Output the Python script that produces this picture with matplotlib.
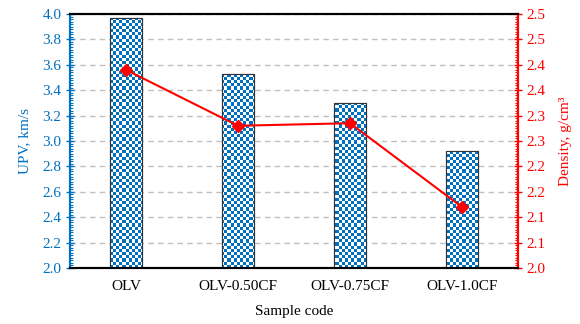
import numpy as np
import matplotlib
matplotlib.use('Agg')
import matplotlib.pyplot as plt
from matplotlib.ticker import MultipleLocator, FuncFormatter
from matplotlib.colors import ListedColormap

samples = ['OLV', 'OLV-0.50CF', 'OLV-0.75CF', 'OLV-1.0CF']
upv = [3.97, 3.53, 3.30, 2.92]
density = [2.39, 2.28, 2.285, 2.12]

BLUE = '#0070C0'
RED = '#FF0000'

plt.rcParams['font.family'] = ['Liberation Serif', 'DejaVu Serif']


def one_decimal(v, pos):
    # excel style: round half up
    return f'{np.floor(v * 10 + 0.5 + 1e-9) / 10:.1f}'


fig = plt.figure(figsize=(5.8, 3.24), dpi=100)
ax = fig.add_axes([70 / 580, 1 - 268 / 324, 448 / 580, 254 / 324])
ax2 = ax.twinx()

x = np.arange(len(samples))
bars = ax.bar(x, upv, width=0.28, bottom=0, facecolor='white',
              edgecolor='#333333', linewidth=0.8, zorder=3)

# checkerboard fill, clipped to each bar
ny, nx = 80, 145
checks = (np.add.outer(np.arange(ny), np.arange(nx)) % 2).astype(float)
cmap = ListedColormap(['white', BLUE])
for b in bars:
    im = ax.imshow(checks, cmap=cmap, extent=(-0.5, 3.5, 2.0, 4.0),
                   aspect='auto', interpolation='nearest', zorder=3.5, origin='lower')
    im.set_clip_path(b)
for b in bars:
    ax.add_patch(plt.Rectangle(b.get_xy(), b.get_width(), b.get_height(),
                               fill=False, edgecolor='#333333', linewidth=0.8, zorder=4))

ax.set_xlim(-0.5, 3.5)
ax.set_ylim(2.0, 4.0)
ax.yaxis.set_major_locator(MultipleLocator(0.2))
ax.yaxis.set_minor_locator(MultipleLocator(0.02))
ax.yaxis.set_major_formatter(FuncFormatter(one_decimal))
ax.grid(axis='y', color='#c0c0c0', linestyle=(0, (4, 3)), linewidth=1.0, zorder=0)
ax.set_axisbelow(True)

ax.set_xticks(x)
ax.set_xticklabels(samples, fontsize=11)
ax.tick_params(axis='x', length=0, pad=9)
ax.tick_params(axis='y', which='major', colors=BLUE, direction='inout', length=6, width=1, labelsize=11, pad=3)
ax.tick_params(axis='y', which='minor', colors=BLUE, direction='in', length=2.5, width=0.8)
ax.set_ylabel('UPV, km/s', color=BLUE, fontsize=11, labelpad=8)
ax.set_xlabel('Sample code', fontsize=11, labelpad=8)

ax2.plot(x, density, color=RED, marker='D', markersize=6, linewidth=1.5, zorder=5)
ax2.set_ylim(2.0, 2.5)
ax2.yaxis.set_major_locator(MultipleLocator(0.05))
ax2.yaxis.set_minor_locator(MultipleLocator(0.005))
ax2.yaxis.set_major_formatter(FuncFormatter(one_decimal))
ax2.tick_params(axis='y', which='major', colors=RED, direction='inout', length=6, width=1, labelsize=11, pad=3)
ax2.tick_params(axis='y', which='minor', colors=RED, direction='in', length=2.5, width=0.8)
ax2.set_ylabel('Density, g/cm³', color=RED, fontsize=11, labelpad=10)

for a in (ax, ax2):
    a.spines['left'].set_color(BLUE)
    a.spines['left'].set_linewidth(1.5)
    a.spines['right'].set_color(RED)
    a.spines['right'].set_linewidth(1.5)
    a.spines['top'].set_color('black')
    a.spines['top'].set_linewidth(1.5)
    a.spines['bottom'].set_color('black')
    a.spines['bottom'].set_linewidth(1.5)

fig.savefig('out.png', dpi=100)
